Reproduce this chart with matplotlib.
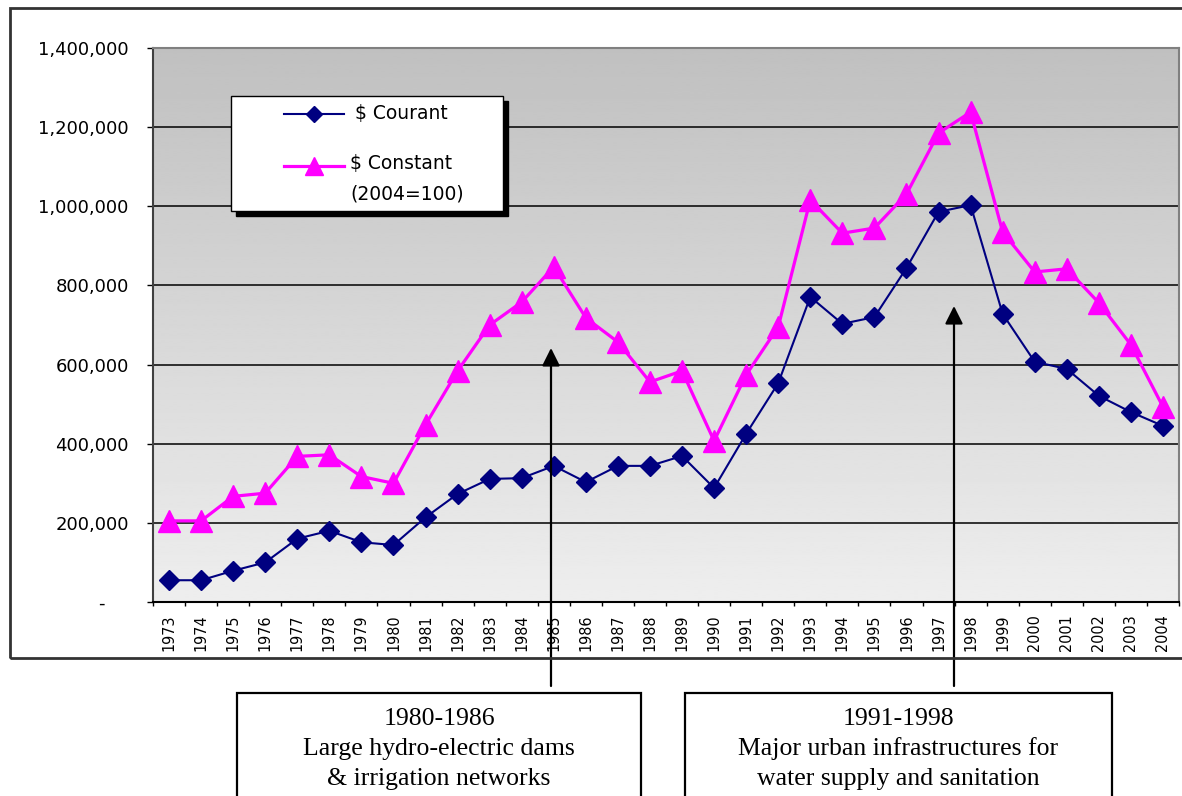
import matplotlib
matplotlib.use("Agg")
import matplotlib.pyplot as plt
import numpy as np
from matplotlib.patches import Rectangle
from matplotlib.lines import Line2D
from matplotlib.ticker import FixedLocator, FuncFormatter

# ---------------- data ----------------
years = list(range(1973, 2005))
courant = [55000, 55000, 79000, 100000, 160000, 180000, 151000, 144000, 214000,
           273000, 311000, 313000, 344000, 303000, 344000, 344000, 369000, 288000,
           425000, 553000, 771000, 703000, 720000, 844000, 986000, 1003000, 728000,
           607000, 589000, 521000, 480000, 445000]
constant = [205000, 205000, 267000, 275000, 368000, 372000, 317000, 300000, 448000,
            584000, 700000, 758000, 847000, 718000, 657000, 556000, 584000, 407000,
            574000, 695000, 1016000, 932000, 945000, 1031000, 1185000, 1238000, 935000,
            834000, 842000, 756000, 650000, 493000]
legend_labels = ["$ Courant", "$ Constant", "(2004=100)"]
yticks = [0, 200000, 400000, 600000, 800000, 1000000, 1200000, 1400000]
note1 = ["1980-1986", "Large hydro-electric dams", "& irrigation networks"]
note2 = ["1991-1998", "Major urban infrastructures for", "water supply and sanitation"]

W, H = 1182, 796
fig = plt.figure(figsize=(W / 100, H / 100), dpi=100)
fig.patch.set_facecolor("white")


def fx(x):
    return x / W


def fy(y):
    return 1 - y / H


L, R, T, B = 153, 1179, 48, 602
ax = fig.add_axes([fx(L), fy(B), (R - L) / W, (B - T) / H])
ax.set_xlim(1972.5, 2004.5)
ax.set_ylim(0, 1400000)

# gradient background (dark at top, light at bottom)
grad = np.linspace(192, 238, 256).reshape(-1, 1) / 255.0
ax.imshow(grad, extent=[0, 1, 0, 1], origin="upper", transform=ax.transAxes, cmap="gray",
          vmin=0, vmax=1, aspect="auto", zorder=0, interpolation="bilinear")

for v in yticks[1:-1]:
    ax.axhline(v, color="black", lw=1.1, zorder=1)

ax.plot(years, courant, color="#000080", lw=1.5, marker="D", ms=10.5,
        markerfacecolor="#000080", markeredgecolor="#000080", zorder=3)
ax.plot(years, constant, color="#ff00ff", lw=2.3, marker="^", ms=15.5,
        markerfacecolor="#ff00ff", markeredgecolor="#ff00ff", zorder=4)

# spines
ax.spines["left"].set_color("#404040")
ax.spines["left"].set_linewidth(1.5)
ax.spines["bottom"].set_color("black")
ax.spines["bottom"].set_linewidth(1.5)
for s in ["top", "right"]:
    ax.spines[s].set_color("#808080")
    ax.spines[s].set_linewidth(1.5)

# y axis
ax.yaxis.set_major_locator(FixedLocator(yticks))
ax.yaxis.set_major_formatter(FuncFormatter(lambda v, p: "-    " if v == 0 else f"{int(v):,}"))
ax.tick_params(axis="y", direction="out", length=4.5, width=1, color="black",
               pad=13, labelsize=13)
for t in ax.get_yticklabels():
    t.set_fontfamily("DejaVu Sans")

# x axis
ax.set_xticks(years)
ax.set_xticklabels([str(y) for y in years], rotation=90, va="top", ha="center",
                   fontsize=11.5, family=["Liberation Sans Narrow", "DejaVu Sans"],
                   fontstretch="condensed")
ax.set_xticks(np.arange(1972.5, 2005, 1.0), minor=True)
ax.tick_params(axis="x", which="major", length=0, pad=9)
ax.tick_params(axis="x", which="minor", direction="out", length=3, width=1, color="black")

# outer frame
fig.add_artist(Rectangle((fx(10), fy(658)), fx(1200 - 10), (658 - 8) / H,
                         transform=fig.transFigure, fill=False, edgecolor="#333333",
                         lw=2, zorder=10))

# legend (manual)
lx0, lx1, ly0, ly1 = 231, 503, 96, 211
fig.add_artist(Rectangle((fx(lx0 + 5), fy(ly1 + 5)), (lx1 - lx0) / W, (ly1 - ly0) / H,
                         transform=fig.transFigure, facecolor="black", edgecolor="black",
                         lw=1, zorder=11))
fig.add_artist(Rectangle((fx(lx0), fy(ly1)), (lx1 - lx0) / W, (ly1 - ly0) / H,
                         transform=fig.transFigure, facecolor="white", edgecolor="black",
                         lw=1, zorder=12))
fig.add_artist(Line2D([fx(284), fx(344)], [fy(114), fy(114)], transform=fig.transFigure,
                      color="#000080", lw=1.5, zorder=13))
fig.add_artist(Line2D([fx(314)], [fy(114)], transform=fig.transFigure, color="#000080",
                      marker="D", ms=8, zorder=14))
fig.add_artist(Line2D([fx(284), fx(344)], [fy(166), fy(166)], transform=fig.transFigure,
                      color="#ff00ff", lw=2.3, zorder=13))
fig.add_artist(Line2D([fx(314)], [fy(166)], transform=fig.transFigure, color="#ff00ff",
                      marker="^", ms=13, zorder=14))
fig.text(fx(355), fy(113), legend_labels[0], fontsize=13.5, family="DejaVu Sans",
         va="center", ha="left", zorder=15, parse_math=False)
fig.text(fx(350), fy(164), legend_labels[1], fontsize=13.5, family="DejaVu Sans",
         va="center", ha="left", zorder=15, parse_math=False)
fig.text(fx(350), fy(194), legend_labels[2], fontsize=13.5, family="DejaVu Sans",
         va="center", ha="left", zorder=15, parse_math=False)

# arrows
for ax_x, tip in [(551, 348), (954, 306)]:
    ax.annotate("", xy=(ax_x, H - tip), xytext=(ax_x, H - 686),
                xycoords="figure pixels", textcoords="figure pixels",
                arrowprops=dict(arrowstyle="-|>,head_length=0.4,head_width=0.2",
                                lw=1.6, color="black", mutation_scale=27,
                                shrinkA=0, shrinkB=0),
                annotation_clip=False, zorder=6)

# note boxes
for (bx0, bx1), lines in [((237, 641), note1), ((685, 1112), note2)]:
    fig.add_artist(Rectangle((fx(bx0), fy(900)), (bx1 - bx0) / W, (900 - 693) / H,
                             transform=fig.transFigure, fill=False, edgecolor="black",
                             lw=1.6, zorder=10))
    cx = (bx0 + bx1) / 2
    for i, s in enumerate(lines):
        fig.text(fx(cx), fy(725 + 30 * i), s, fontsize=18.5, family="Liberation Serif",
                 ha="center", va="baseline", zorder=11)

fig.savefig("out.png", dpi=100)
